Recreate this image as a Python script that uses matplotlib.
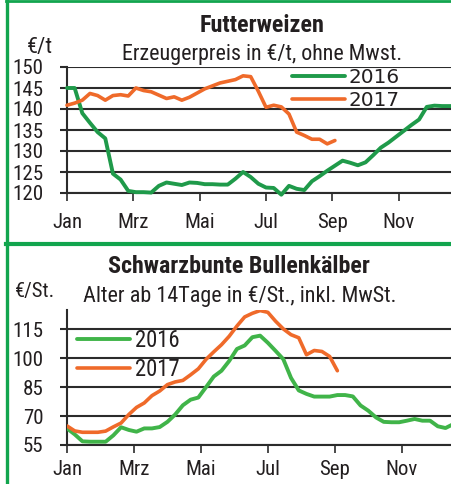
import numpy as np
import matplotlib
matplotlib.use("Agg")
import matplotlib.pyplot as plt
from matplotlib.lines import Line2D
import logging
logging.getLogger("matplotlib.font_manager").setLevel(logging.ERROR)

FAMILY = ['Nimbus Sans Narrow', 'Liberation Sans Narrow', 'Roboto Condensed',
          'Archivo Narrow', 'DejaVu Sans']
plt.rcParams['font.family'] = FAMILY

# ---------------- data (weekly values) ----------------
months = ["Jan", "Mrz", "Mai", "Jul", "Sep", "Nov"]
month_ticks = [0, 2, 4, 6, 8, 10]

weizen_2016 = [145.0, 145.0, 139.0, 136.7, 134.5, 133.0, 124.6, 123.2, 120.5, 120.2,
               120.2, 120.1, 121.7, 122.5, 122.2, 121.9, 122.5, 122.4, 122.1, 122.1,
               122.0, 122.0, 123.4, 125.0, 123.8, 122.2, 121.3, 121.2, 119.6, 121.7,
               121.0, 120.7, 122.8, 124.0, 125.3, 126.5, 127.7, 127.2, 126.6, 127.3,
               129.0, 130.8, 132.0, 133.4, 134.8, 136.2, 137.5, 140.5, 140.8, 140.7,
               140.7, 140.7]
weizen_2017 = [140.9, 141.4, 142.1, 143.7, 143.2, 142.1, 143.2, 143.4, 143.1, 145.0,
               144.4, 144.1, 143.3, 142.5, 142.9, 142.1, 142.8, 143.8, 144.8, 145.5,
               146.2, 146.6, 147.0, 147.9, 147.7, 144.2, 140.4, 140.9, 140.5, 138.8,
               134.5, 133.7, 132.8, 132.8, 131.7, 132.5]

kalb_2016 = [63.6, 60.5, 56.9, 56.7, 56.7, 56.7, 60.0, 64.2, 62.8, 61.9,
             63.6, 63.6, 64.3, 67.0, 70.8, 75.6, 78.5, 79.6, 85.0, 90.5,
             93.5, 98.6, 104.8, 106.6, 110.9, 111.7, 108.0, 103.8, 99.5, 89.8,
             83.3, 81.5, 80.1, 80.1, 80.1, 80.9, 80.9, 80.2, 75.5, 72.8,
             69.3, 67.0, 66.8, 66.8, 67.6, 68.5, 67.6, 67.6, 64.7, 63.8, 65.8]
kalb_2017 = [64.9, 62.3, 61.6, 61.6, 61.6, 62.2, 64.4, 66.4, 70.8, 74.5,
             76.8, 80.6, 83.0, 86.3, 87.7, 88.5, 91.4, 94.5, 99.4, 103.3,
             107.0, 111.4, 116.7, 121.4, 123.3, 124.7, 123.8, 119.2, 115.2, 112.2,
             110.6, 101.8, 104.0, 103.5, 100.9, 93.5]

weizen_yticks = [120, 125, 130, 135, 140, 145, 150]
kalb_yticks = [55, 70, 85, 100, 115]

# ---------------- styling ----------------
W, H = 451, 484
TXT = "#231f20"
GRID = "#2b2b2b"
BORDER = "#12a54e"
ORANGE = "#ef6a2a"
GREEN_TOP = "#1f9a4a"
GREEN_BOT = "#40b449"


def wk(vals):
    return np.arange(len(vals)) * 12 / 52


fig = plt.figure(figsize=(W / 100, H / 100), dpi=100)
fig.patch.set_facecolor("white")
renderer = fig.canvas.get_renderer()


def fx(px):
    return px / W


def fy(py):
    return 1 - py / H


def fit_size(text, width_px, weight="normal", family=None, base=15.0):
    """font size (pt) so that `text` is about width_px wide"""
    t = fig.text(0, 0, text, fontsize=base, fontweight=weight,
                 family=family if family else FAMILY)
    w = t.get_window_extent(renderer).width
    t.remove()
    return base * width_px / w


YT = fit_size("150", 31)
XT = fit_size("Mrz", 31.5)


def style_axes(ax, ylim, yticks, xlim, xpad):
    ax.set_ylim(*ylim)
    ax.set_xlim(*xlim)
    ax.set_yticks(yticks)
    ax.set_yticklabels([str(t) for t in yticks])
    ax.set_xticks(month_ticks)
    ax.set_xticklabels(months)
    for s in ["top", "right"]:
        ax.spines[s].set_visible(False)
    ax.spines["left"].set_linewidth(1.5)
    ax.spines["left"].set_color(GRID)
    ax.spines["bottom"].set_linewidth(1.5)
    ax.spines["bottom"].set_color(GRID)
    ax.yaxis.grid(True, color=GRID, linewidth=1.5)
    ax.set_axisbelow(True)
    ax.tick_params(axis="y", length=5, width=1.5, color=GRID, pad=12,
                   labelsize=YT, labelcolor=TXT)
    ax.tick_params(axis="x", length=5.5, width=1.2, color=GRID, pad=xpad,
                   labelsize=XT, labelcolor=TXT)


def place_legend(ax, x_px, row1_px, row2_px, handle_px, gap_px, fontsize, family):
    fpx = fontsize * 100 / 72
    ls = 0.2
    leg = None
    anchor_top = row1_px - 10
    for _ in range(3):
        if leg is not None:
            leg.remove()
        leg = ax.legend(loc="upper left", bbox_to_anchor=(fx(x_px), fy(anchor_top)),
                        bbox_transform=fig.transFigure, frameon=False,
                        prop={"size": fontsize, "family": family},
                        handlelength=handle_px / fpx, handletextpad=gap_px / fpx,
                        labelspacing=ls, borderpad=0, borderaxespad=0)
        fig.canvas.draw()
        lines = leg.get_lines()
        y1 = H - lines[0].get_window_extent(renderer).y0 - \
            lines[0].get_window_extent(renderer).height / 2
        y2 = H - lines[1].get_window_extent(renderer).y0 - \
            lines[1].get_window_extent(renderer).height / 2
        anchor_top += row1_px - y1
        ls += ((row2_px - row1_px) - (y2 - y1)) / fpx
    for t in leg.get_texts():
        t.set_color(TXT)
    return leg


# ---- top chart ----
ax1 = fig.add_axes([fx(67), fy(193), fx(451 - 67), (193 - 67) / H])
style_axes(ax1, (120, 150), weizen_yticks, (0, (451 - 67) / 33.17), 9)
ax1.plot(wk(weizen_2016), weizen_2016, color=GREEN_TOP, lw=2.8,
         solid_capstyle="round", label="2016", clip_on=False, zorder=3)
ax1.plot(wk(weizen_2017), weizen_2017, color=ORANGE, lw=2.6,
         solid_capstyle="round", label="2017", clip_on=False, zorder=3)

fig.text(fx(262), fy(32), "Futterweizen", ha="center", va="baseline",
         fontsize=fit_size("Futterweizen", 125, "bold"), fontweight="bold",
         color=TXT)
sub1 = "Erzeugerpreis in €/t, ohne Mwst."
fig.text(fx(262), fy(60), sub1, ha="center", va="baseline",
         fontsize=fit_size(sub1, 281), color=TXT)
fig.text(fx(27), fy(53), "€/t", ha="left", va="baseline",
         fontsize=fit_size("€/t", 26), color=TXT)

# ---- bottom chart ----
ax2 = fig.add_axes([fx(67), fy(445), fx(451 - 67), (445 - 310) / H])
style_axes(ax2, (55, 125), kalb_yticks, (0, (451 - 66.7) / 33.5), 5)
ax2.plot(wk(kalb_2016), kalb_2016, color=GREEN_BOT, lw=2.8,
         solid_capstyle="round", label="2016", zorder=3)
ax2.plot(wk(kalb_2017), kalb_2017, color=ORANGE, lw=2.6,
         solid_capstyle="round", label="2017", zorder=3)

t2 = "Schwarzbunte Bullenkälber"
fig.text(fx(239), fy(273), t2, ha="center", va="baseline",
         fontsize=fit_size(t2, 262, "bold"), fontweight="bold", color=TXT)
sub2 = "Alter ab 14Tage in €/St., inkl. MwSt."
fig.text(fx(240), fy(302), sub2, ha="center", va="baseline",
         fontsize=fit_size(sub2, 314), color=TXT)
fig.text(fx(15), fy(297), "€/St.", ha="left", va="baseline",
         fontsize=fit_size("€/St.", 40), color=TXT)

# ---- legends ----
LEG1 = fit_size("2016", 51, family=["DejaVu Sans"])
place_legend(ax1, 292, 76, 99, 53, 3, LEG1, ["DejaVu Sans"])
LEG2 = fit_size("2016", 45)
place_legend(ax2, 77, 339, 368, 53, 5, LEG2, FAMILY)

# ---- green frame ----
fig.add_artist(Line2D([fx(7.5), fx(7.5)], [0, 1], color=BORDER, lw=2.4,
                      transform=fig.transFigure))
fig.add_artist(Line2D([fx(6), 1], [fy(1), fy(1)], color=BORDER, lw=2.0,
                      transform=fig.transFigure))
fig.add_artist(Line2D([fx(6), 1], [fy(244.5), fy(244.5)], color=BORDER, lw=3.0,
                      transform=fig.transFigure))

fig.savefig("out.png", dpi=100)
